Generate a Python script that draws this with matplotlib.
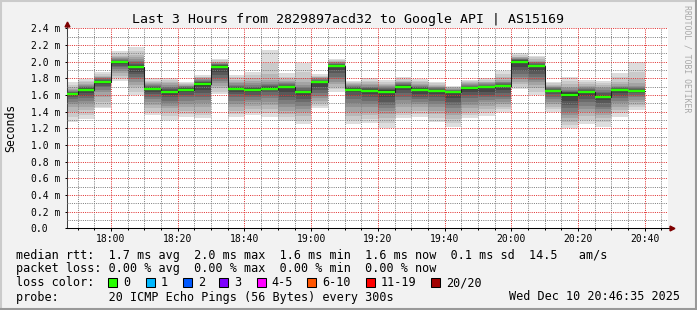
import numpy as np
import matplotlib
matplotlib.use("Agg")
import matplotlib.pyplot as plt
from matplotlib.patches import Rectangle
from matplotlib.lines import Line2D

plt.rcParams['font.family'] = ['DejaVu Sans Mono']

W, H = 697, 310

title = "Last 3 Hours from 2829897acd32 to Google API | AS15169"

# 5-minute slots (start times)
slot_starts = ["17:45", "17:50", "17:55", "18:00", "18:05", "18:10", "18:15",
               "18:20", "18:25", "18:30", "18:35", "18:40", "18:45", "18:50",
               "18:55", "19:00", "19:05", "19:10", "19:15", "19:20", "19:25",
               "19:30", "19:35", "19:40", "19:45", "19:50", "19:55", "20:00",
               "20:05", "20:10", "20:15", "20:20", "20:25", "20:30", "20:35"]

# median rtt per slot (ms)
median_ms = [1.61, 1.66, 1.755, 1.99, 1.94, 1.675, 1.64, 1.665, 1.73, 1.94,
             1.675, 1.66, 1.67, 1.695, 1.63, 1.75, 1.95, 1.665, 1.65, 1.64,
             1.70, 1.665, 1.65, 1.63, 1.68, 1.69, 1.71, 2.00, 1.95, 1.65,
             1.60, 1.63, 1.58, 1.66, 1.65]

# packet loss per slot (out of 20)
loss_count = [0] * 35

# 20 sorted ping rtts per slot (ms)
p1745 = [1.28, 1.34, 1.40, 1.45, 1.49, 1.52, 1.55, 1.57, 1.59, 1.605, 1.615, 1.625, 1.63, 1.64, 1.65, 1.66, 1.67, 1.69, 1.72, 1.75]
p1750 = [1.31, 1.36, 1.42, 1.46, 1.50, 1.53, 1.56, 1.59, 1.62, 1.65, 1.67, 1.68, 1.69, 1.70, 1.71, 1.72, 1.73, 1.75, 1.77, 1.79]
p1755 = [1.44, 1.46, 1.52, 1.58, 1.63, 1.66, 1.69, 1.71, 1.73, 1.745, 1.76, 1.77, 1.78, 1.79, 1.80, 1.81, 1.82, 1.83, 1.85, 1.87]
p1800 = [1.77, 1.80, 1.83, 1.86, 1.89, 1.91, 1.93, 1.95, 1.97, 1.985, 1.995, 2.00, 2.01, 2.02, 2.03, 2.04, 2.05, 2.07, 2.10, 2.13]
p1805 = [1.60, 1.64, 1.69, 1.72, 1.76, 1.79, 1.82, 1.85, 1.88, 1.92, 1.95, 1.96, 1.97, 1.99, 2.01, 2.03, 2.05, 2.08, 2.13, 2.18]
p1810 = [1.36, 1.40, 1.44, 1.48, 1.52, 1.55, 1.58, 1.61, 1.64, 1.665, 1.68, 1.69, 1.70, 1.71, 1.72, 1.73, 1.74, 1.75, 1.77, 1.80]
p1815 = [1.30, 1.35, 1.40, 1.44, 1.47, 1.50, 1.53, 1.57, 1.60, 1.63, 1.65, 1.66, 1.67, 1.69, 1.70, 1.72, 1.74, 1.76, 1.78, 1.80]
p1820 = [1.34, 1.37, 1.41, 1.45, 1.49, 1.53, 1.57, 1.60, 1.63, 1.655, 1.675, 1.68, 1.69, 1.70, 1.705, 1.71, 1.72, 1.73, 1.74, 1.75]
p1825 = [1.32, 1.36, 1.40, 1.45, 1.50, 1.54, 1.58, 1.62, 1.66, 1.71, 1.74, 1.75, 1.76, 1.77, 1.78, 1.79, 1.80, 1.81, 1.82, 1.84]
p1830 = [1.61, 1.64, 1.68, 1.71, 1.74, 1.77, 1.80, 1.84, 1.88, 1.92, 1.95, 1.96, 1.965, 1.97, 1.975, 1.98, 1.99, 2.00, 2.015, 2.03]
p1835 = [1.33, 1.37, 1.41, 1.45, 1.49, 1.53, 1.57, 1.61, 1.64, 1.665, 1.68, 1.69, 1.70, 1.71, 1.72, 1.74, 1.76, 1.78, 1.81, 1.84]
p1840 = [1.36, 1.39, 1.43, 1.47, 1.51, 1.54, 1.57, 1.60, 1.63, 1.65, 1.67, 1.68, 1.69, 1.70, 1.72, 1.74, 1.77, 1.80, 1.84, 1.88]
p1845 = [1.33, 1.38, 1.43, 1.48, 1.52, 1.56, 1.60, 1.63, 1.655, 1.67, 1.69, 1.70, 1.71, 1.72, 1.73, 1.75, 1.78, 1.85, 1.98, 2.14]
p1850 = [1.29, 1.33, 1.37, 1.41, 1.45, 1.49, 1.54, 1.58, 1.63, 1.685, 1.705, 1.71, 1.72, 1.73, 1.74, 1.75, 1.77, 1.79, 1.82, 1.86]
p1855 = [1.25, 1.30, 1.35, 1.39, 1.43, 1.47, 1.51, 1.55, 1.59, 1.62, 1.64, 1.65, 1.66, 1.68, 1.70, 1.72, 1.75, 1.80, 1.88, 1.98]
p1900 = [1.44, 1.47, 1.50, 1.53, 1.56, 1.59, 1.62, 1.66, 1.70, 1.74, 1.76, 1.765, 1.77, 1.78, 1.79, 1.80, 1.81, 1.82, 1.83, 1.85]
p1905 = [1.64, 1.67, 1.70, 1.73, 1.76, 1.79, 1.82, 1.86, 1.90, 1.94, 1.96, 1.965, 1.97, 1.975, 1.98, 1.99, 2.00, 2.01, 2.02, 2.03]
p1910 = [1.25, 1.30, 1.35, 1.40, 1.45, 1.50, 1.55, 1.59, 1.63, 1.655, 1.675, 1.68, 1.69, 1.70, 1.71, 1.72, 1.73, 1.74, 1.755, 1.77]
p1915 = [1.26, 1.31, 1.36, 1.40, 1.45, 1.49, 1.53, 1.57, 1.61, 1.64, 1.66, 1.67, 1.68, 1.69, 1.70, 1.715, 1.73, 1.75, 1.77, 1.80]
p1920 = [1.20, 1.26, 1.32, 1.37, 1.41, 1.44, 1.48, 1.52, 1.57, 1.62, 1.655, 1.665, 1.675, 1.685, 1.695, 1.71, 1.72, 1.73, 1.75, 1.78]
p1925 = [1.32, 1.36, 1.40, 1.45, 1.50, 1.54, 1.58, 1.62, 1.66, 1.69, 1.71, 1.715, 1.72, 1.73, 1.74, 1.75, 1.76, 1.77, 1.79, 1.81]
p1930 = [1.33, 1.37, 1.41, 1.45, 1.49, 1.52, 1.55, 1.58, 1.61, 1.655, 1.675, 1.68, 1.69, 1.70, 1.71, 1.72, 1.73, 1.75, 1.77, 1.79]
p1935 = [1.28, 1.32, 1.37, 1.41, 1.45, 1.49, 1.53, 1.57, 1.61, 1.64, 1.66, 1.665, 1.67, 1.68, 1.69, 1.70, 1.71, 1.72, 1.74, 1.76]
p1940 = [1.21, 1.26, 1.31, 1.36, 1.40, 1.44, 1.48, 1.52, 1.56, 1.62, 1.64, 1.645, 1.65, 1.66, 1.665, 1.67, 1.68, 1.69, 1.70, 1.71]
p1945 = [1.32, 1.36, 1.40, 1.44, 1.48, 1.52, 1.56, 1.60, 1.63, 1.665, 1.685, 1.69, 1.70, 1.71, 1.72, 1.73, 1.74, 1.75, 1.765, 1.78]
p1950 = [1.35, 1.39, 1.43, 1.47, 1.51, 1.54, 1.57, 1.60, 1.64, 1.68, 1.70, 1.705, 1.71, 1.72, 1.73, 1.74, 1.75, 1.76, 1.78, 1.80]
p1955 = [1.40, 1.43, 1.46, 1.49, 1.52, 1.55, 1.58, 1.62, 1.66, 1.70, 1.72, 1.725, 1.73, 1.74, 1.75, 1.76, 1.78, 1.81, 1.85, 1.89]
p2000 = [1.67, 1.70, 1.73, 1.76, 1.79, 1.82, 1.85, 1.89, 1.93, 1.99, 2.01, 2.02, 2.025, 2.03, 2.035, 2.04, 2.05, 2.06, 2.08, 2.10]
p2005 = [1.60, 1.64, 1.68, 1.72, 1.75, 1.78, 1.81, 1.85, 1.89, 1.935, 1.955, 1.96, 1.97, 1.98, 1.99, 2.00, 2.01, 2.03, 2.05, 2.07]
p2010 = [1.40, 1.43, 1.46, 1.49, 1.52, 1.55, 1.58, 1.61, 1.63, 1.64, 1.66, 1.665, 1.67, 1.68, 1.69, 1.70, 1.71, 1.72, 1.74, 1.76]
p2015 = [1.20, 1.24, 1.28, 1.32, 1.36, 1.40, 1.44, 1.48, 1.53, 1.58, 1.62, 1.63, 1.64, 1.65, 1.66, 1.68, 1.70, 1.73, 1.77, 1.81]
p2020 = [1.25, 1.30, 1.35, 1.39, 1.43, 1.47, 1.51, 1.55, 1.59, 1.62, 1.64, 1.65, 1.66, 1.67, 1.68, 1.69, 1.71, 1.73, 1.755, 1.78]
p2025 = [1.22, 1.27, 1.32, 1.36, 1.40, 1.43, 1.46, 1.50, 1.54, 1.57, 1.59, 1.60, 1.62, 1.64, 1.66, 1.68, 1.70, 1.72, 1.745, 1.77]
p2030 = [1.34, 1.38, 1.42, 1.46, 1.50, 1.53, 1.56, 1.59, 1.62, 1.65, 1.67, 1.675, 1.68, 1.69, 1.70, 1.71, 1.73, 1.76, 1.81, 1.86]
p2035 = [1.42, 1.45, 1.48, 1.51, 1.54, 1.57, 1.60, 1.62, 1.635, 1.645, 1.66, 1.665, 1.67, 1.68, 1.69, 1.71, 1.74, 1.79, 1.88, 2.00]

pings = np.array([p1745, p1750, p1755, p1800, p1805, p1810, p1815, p1820, p1825,
                  p1830, p1835, p1840, p1845, p1850, p1855, p1900, p1905, p1910,
                  p1915, p1920, p1925, p1930, p1935, p1940, p1945, p1950, p1955,
                  p2000, p2005, p2010, p2015, p2020, p2025, p2030, p2035])

x_tick_labels = ["18:00", "18:20", "18:40", "19:00", "19:20", "19:40",
                 "20:00", "20:20", "20:40"]
y_ticks = [0.0, 0.2, 0.4, 0.6, 0.8, 1.0, 1.2, 1.4, 1.6, 1.8, 2.0, 2.2, 2.4]

loss_labels = ["0", "1", "2", "3", "4-5", "6-10", "11-19", "20/20"]
loss_colors = ["#26ff00", "#00b8ff", "#0059ff", "#7e00ff", "#ff00ff",
               "#ff5500", "#ff0000", "#a10000"]

view_start = "17:46:48"
view_end = "20:46:48"
stamp = "Wed Dec 10 20:46:35 2025"


def to_min(s):
    parts = [int(v) for v in s.split(":")]
    m = parts[0] * 60 + parts[1]
    if len(parts) > 2:
        m += parts[2] / 60.0
    return m


x0 = np.array([to_min(s) for s in slot_starts], dtype=float)
med = np.array(median_ms)
step = 5.0

fig = plt.figure(figsize=(W / 100, H / 100), dpi=100, facecolor="#f2f2f2")

# plot area in pixels
L, R, T, B = 67, 667.5, 28.3, 228.3
ax = fig.add_axes([L / W, 1 - B / H, (R - L) / W, (B - T) / H])
ax.set_facecolor("white")

# smoke
n = pings.shape[1]
half = n // 2
for i in range(1, half + 1):
    g = int(190 / half * (half - i)) + 50
    col = "#%02x%02x%02x" % (g, g, g)
    lo = pings[:, i - 1]
    hi = pings[:, n - i]
    ax.bar(x0, hi - lo, bottom=lo, width=step, align="edge", color=col,
           linewidth=0, antialiased=False, zorder=1)

# median line
edges = np.append(x0, x0[-1] + step)
ax.step(edges, np.append(med, med[-1]), where="post", color="#202020",
        lw=0.75, zorder=3)
ax.hlines(med, x0, x0 + step,
          colors=[loss_colors[0] if c == 0 else loss_colors[-1] for c in loss_count],
          lw=1.7, zorder=4)

ax.set_xlim(to_min(view_start), to_min(view_end))
ax.set_ylim(0, 2.4)

major_x = [to_min(s) for s in x_tick_labels]
ax.set_xticks(major_x)
ax.set_xticklabels(x_tick_labels)
ax.set_xticks(np.arange(to_min("17:50"), to_min("20:46"), 5), minor=True)
ax.set_yticks(y_ticks)
ax.set_yticklabels(["0.0" if v == 0 else "%.1f m" % v for v in y_ticks])
ax.set_yticks(np.arange(0.1, 2.4, 0.2), minor=True)

ax.grid(which="minor", color=(0.5, 0.5, 0.5, 0.42), lw=0.72,
        linestyle=(0, (1, 1.2)))
ax.grid(which="major", color=(0.88, 0.2, 0.2, 0.38), lw=0.72,
        linestyle=(0, (1, 1.2)))
ax.set_axisbelow(False)

for s in ("top", "right"):
    ax.spines[s].set_visible(False)
ax.spines["left"].set_color("#404040")
ax.spines["bottom"].set_color("#000000")
ax.spines["left"].set_linewidth(0.75)
ax.spines["bottom"].set_linewidth(0.75)

ax.tick_params(axis="y", which="major", length=1.8, width=0.72, pad=24.3,
               labelsize=7, colors="black")
ax.tick_params(axis="y", which="minor", length=0)
for lab in ax.get_yticklabels():
    lab.set_horizontalalignment("left")
ax.tick_params(axis="x", which="major", length=2.2, width=0.72, pad=1.9,
               labelsize=7, colors="black")
ax.tick_params(axis="x", which="minor", length=1.2, width=0.72)

# axis extensions / arrows
ax.plot([1.0, (670 - L) / (R - L)], [0, 0], transform=ax.transAxes,
        color="black", lw=0.75, clip_on=False, zorder=5)
ax.plot([(671.5 - L) / (R - L)], [0], transform=ax.transAxes, marker=">",
        ms=3.5, color="#7f0000", mec="#7f0000", clip_on=False, zorder=6)
ax.plot([0, 0], [1.0, (B - 25) / (B - T)], transform=ax.transAxes,
        color="#404040", lw=0.75, clip_on=False, zorder=5)
ax.plot([0], [(B - 24) / (B - T)], transform=ax.transAxes, marker="^",
        ms=3.5, color="#7f0000", mec="#7f0000", clip_on=False, zorder=6)


def fx(px):
    return px / W


def fy(py):
    return 1 - py / H


fig.text(fx(347.5), fy(19.3), title, ha="center", va="center", fontsize=9.5)
fig.text(fx(10.5), fy((T + B) / 2), "Seconds", rotation=90, ha="center",
         va="center", fontsize=8.3)
fig.text(fx(687), fy(59), "RRDTOOL / TOBI OETIKER", rotation=270, ha="center",
         va="center", fontsize=5.9, color="#a8a8a8")

LF = 8.5
fig.text(fx(16), fy(255.5), "median rtt:  1.7 ms avg  2.0 ms max  1.6 ms min  1.6 ms now  0.1 ms sd  14.5   am/s",
         ha="left", va="center", fontsize=LF)
fig.text(fx(16), fy(268.8), "packet loss: 0.00 % avg  0.00 % max  0.00 % min  0.00 % now",
         ha="left", va="center", fontsize=LF)
fig.text(fx(16), fy(283), "loss color:", ha="left", va="center", fontsize=LF)
box_left = [108, 145.7, 182.7, 219.3, 256.7, 307.3, 365.7, 430.7]
for bl, lab, col in zip(box_left, loss_labels, loss_colors):
    fig.add_artist(Rectangle((fx(bl), fy(287)), 9 / W, 9 / H,
                             transform=fig.transFigure, facecolor=col,
                             edgecolor="black", lw=0.75))
    fig.text(fx(bl + 15), fy(283), lab, ha="left", va="center", fontsize=LF)
fig.text(fx(16), fy(297), "probe:       20 ICMP Echo Pings (56 Bytes) every 300s",
         ha="left", va="center", fontsize=LF)
fig.text(fx(680), fy(297), stamp, ha="right", va="center", fontsize=LF)

# 3D border
fig.add_artist(Line2D([0, 1], [1 - 1 / H, 1 - 1 / H], transform=fig.transFigure,
                      color="#cbcbcb", lw=1.5))
fig.add_artist(Line2D([1 / W, 1 / W], [0, 1], transform=fig.transFigure,
                      color="#cbcbcb", lw=1.5))
fig.add_artist(Line2D([0, 1], [1 / H, 1 / H], transform=fig.transFigure,
                      color="#999999", lw=1.5))
fig.add_artist(Line2D([1 - 1 / W, 1 - 1 / W], [0, 1], transform=fig.transFigure,
                      color="#999999", lw=1.5))

fig.savefig("out.png", dpi=100, facecolor=fig.get_facecolor())
